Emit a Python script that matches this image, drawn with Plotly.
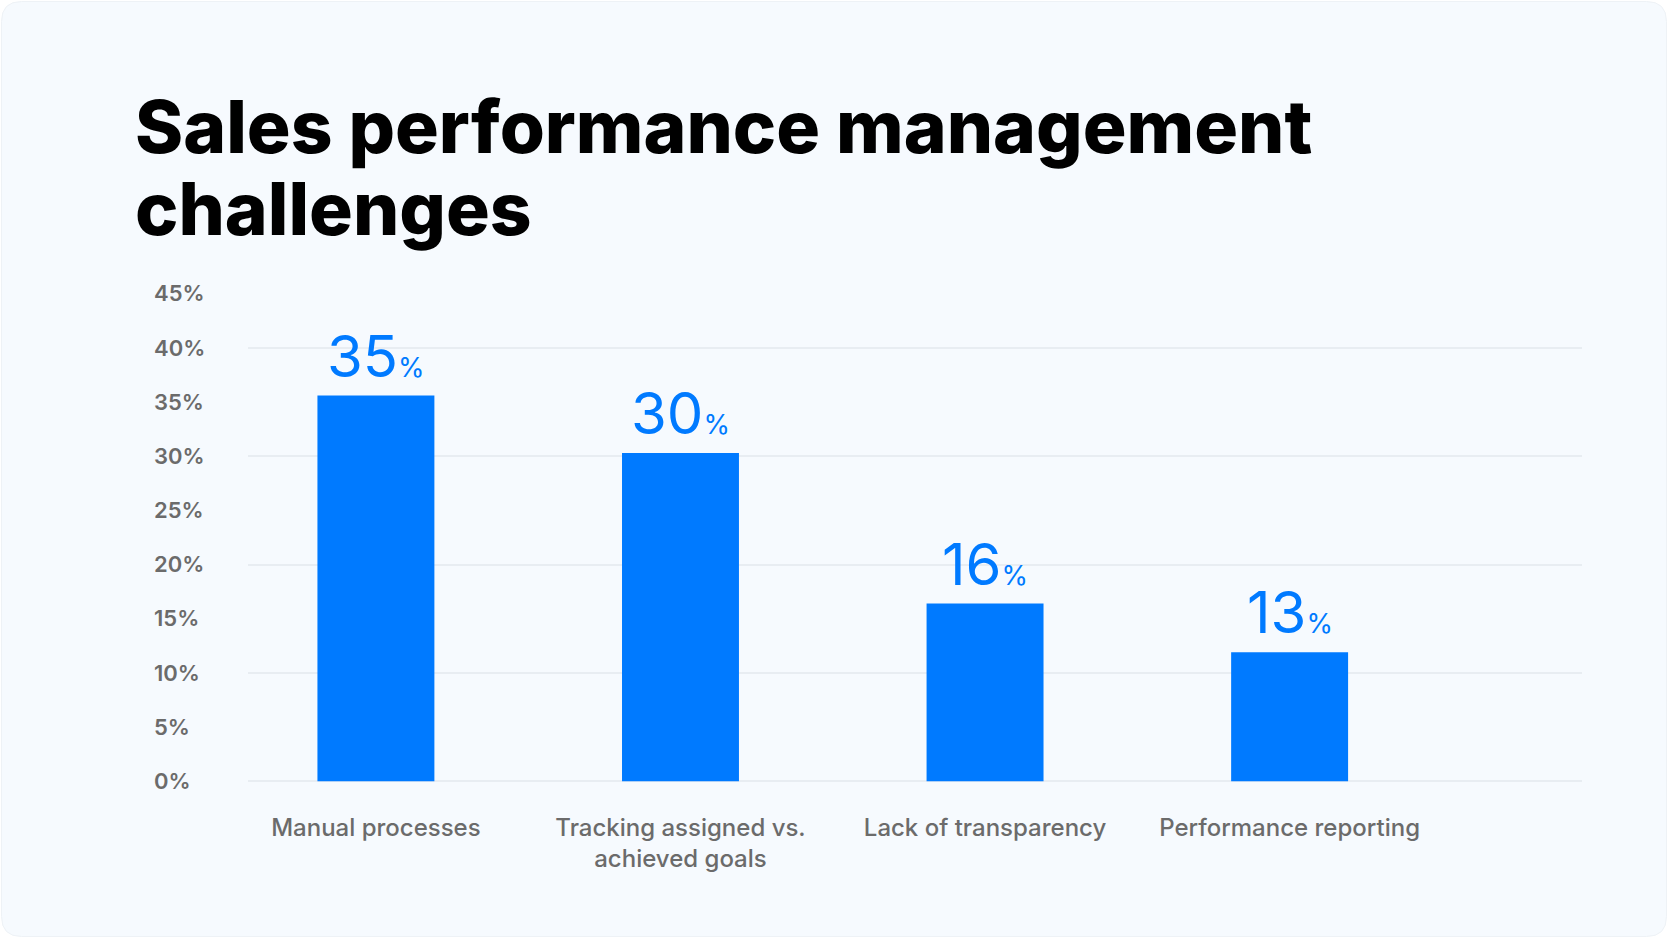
import plotly.graph_objects as go

# ---- data ----
categories = ["Manual processes", "Tracking assigned vs.<br>achieved goals",
              "Lack of transparency", "Performance reporting"]
bar_heights = [35.6, 30.3, 16.4, 11.9]      # bar heights as drawn
label_values = [35, 30, 16, 13]             # printed value labels
y_tick_values = [0, 5, 10, 15, 20, 25, 30, 35, 40, 45]
y_tick_labels = ["0%", "5%", "10%", "15%", "20%", "25%", "30%", "35%", "40%", "45%"]
title_lines = ["Sales performance management", "challenges"]

# ---- layout geometry ----
W, H = 1668, 938
Y_RANGE = [-2, 47]
PX_PER_UNIT = 10.825
zero_px, top45_px = 781, 781 - 45 * PX_PER_UNIT
T = round(top45_px - (Y_RANGE[1] - 45) * PX_PER_UNIT)
B = round(H - (zero_px - Y_RANGE[0] * PX_PER_UNIT))
L, R = 150, 86
PW, PH = W - L - R, H - T - B
plot_left = 248


def px2x(px):
    return (px - L) / PW


def py2y(py):
    return (H - B - py) / PH


BLUE = "#007AFF"
GRAY = "#6B6B6B"
CARD = "#F6FAFE"
FONT = "Inter"

fig = go.Figure()
fig.add_trace(go.Bar(
    x=categories, y=bar_heights, marker=dict(color=BLUE, line=dict(width=0)),
    width=0.384, hoverinfo="skip", showlegend=False,
))
# invisible trace to hold the label axis
fig.add_trace(go.Scatter(
    x=categories, y=bar_heights, yaxis="y2", mode="markers",
    marker=dict(opacity=0), hoverinfo="skip", showlegend=False,
))

annotations = []
for cat, h, v in zip(categories, bar_heights, label_values):
    annotations.append(dict(
        x=cat, y=h, xref="x", yref="y", yanchor="bottom", xanchor="center",
        yshift=3, showarrow=False,
        text=f"{v}<span style='font-size:27px'>%</span>",
        font=dict(family=FONT, size=58, color=BLUE),
    ))

for i, line in enumerate(title_lines):
    annotations.append(dict(
        x=px2x(133), y=py2y(126 + 82 * i), xref="paper", yref="paper", xanchor="left",
        yanchor="middle", showarrow=False, text=line,
        font=dict(family=FONT, size=73, color="#000000", weight=800),
    ))

# rounded card background
x0, y0, x1, y1, r = 1.5, 1.5, 1666.5, 936.5, 20
pts = (
    f"M {px2x(x0 + r)} {py2y(y0)} L {px2x(x1 - r)} {py2y(y0)} "
    f"Q {px2x(x1)} {py2y(y0)} {px2x(x1)} {py2y(y0 + r)} "
    f"L {px2x(x1)} {py2y(y1 - r)} Q {px2x(x1)} {py2y(y1)} {px2x(x1 - r)} {py2y(y1)} "
    f"L {px2x(x0 + r)} {py2y(y1)} Q {px2x(x0)} {py2y(y1)} {px2x(x0)} {py2y(y1 - r)} "
    f"L {px2x(x0)} {py2y(y0 + r)} Q {px2x(x0)} {py2y(y0)} {px2x(x0 + r)} {py2y(y0)} Z"
)

fig.update_layout(
    width=W, height=H,
    margin=dict(l=L, r=R, t=T, b=B, pad=0),
    paper_bgcolor="#FFFFFF", plot_bgcolor="rgba(0,0,0,0)",
    shapes=[dict(type="path", path=pts, xref="paper", yref="paper",
                 fillcolor=CARD, line=dict(color="#EEF2F6", width=1), layer="below")],
    annotations=annotations,
    xaxis=dict(
        type="category", domain=[px2x(plot_left), 1], range=[-0.42, 3.96],
        showgrid=False, zeroline=False, showline=False, ticks="",
        tickfont=dict(family=FONT, size=24, color=GRAY, weight=500),
        ticklabelstandoff=8,
    ),
    yaxis=dict(
        range=Y_RANGE, dtick=10, tick0=0, showgrid=True, gridcolor="#E8EDF2", gridwidth=2,
        zeroline=True, zerolinecolor="#E8EDF2", zerolinewidth=2,
        showticklabels=False, showline=False, ticks="",
    ),
    yaxis2=dict(
        overlaying="y", anchor="free", position=0, side="left", range=Y_RANGE,
        tickvals=y_tick_values, ticktext=y_tick_labels,
        ticklabelposition="inside", showgrid=False, zeroline=False, showline=False,
        ticks="", tickfont=dict(family=FONT, size=22, color=GRAY, weight=600),
    ),
)

fig.write_html("out.html", config={"displayModeBar": False},
               post_script="document.body.style.margin='0';")
